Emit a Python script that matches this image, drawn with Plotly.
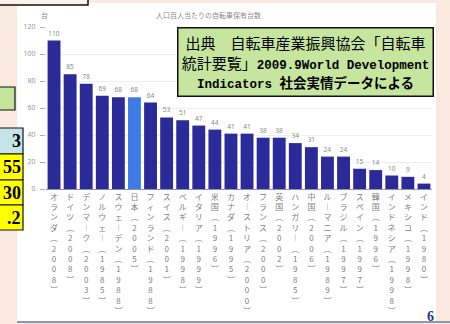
import plotly.graph_objects as go

# Bicycles owned per 100 people, by country (survey year in parentheses)
countries = [
    "オランダ(2008)", "ドイツ(2008)", "デンマーク(2003)", "ノルウェー(1985)",
    "スウェーデン(1988)", "日本(2005)", "フィンランド(1988)", "スイス(2001)",
    "ベルギー(1998)", "イタリア(1999)", "米国(1996)", "カナダ(1995)",
    "オーストリア(2000)", "フランス(2000)", "英国(2002)", "ハンガリー(1985)",
    "中国(2006)", "ルーマニア(1989)", "ブラジル(1997)", "スペイン(1997)",
    "韓国(1996)", "インドネシア(1998)", "メキシコ(1998)", "インド(1980)",
]
per_100 = [110, 85, 78, 69, 68, 68, 64, 53, 51, 47, 44, 41,
           41, 38, 38, 34, 31, 24, 24, 15, 14, 10, 9, 4]
highlight = "日本(2005)"

y_ticks = [0, 20, 40, 60, 80, 100, 120]

chart_title = "人口百人当たりの自転車保有台数"
unit_label = "台"
source_lines = [
    "出典　自転車産業振興協会「自転車",
    "統計要覧」",
    "2009.9World Development",
    "Indicators ",
    "社会実情データによる",
]
side_cells = ["3", "55", "30", ".2"]
page_no = "6"

# ---- page geometry (pixels) ----
W, H = 450, 324
PL, PR, PT, PB = 46, 432, 27, 189   # plot area edges


def px_x(p):
    return (p - PL) / (PR - PL)


def px_y(p):
    return (PB - p) / (PB - PT)


VERT = {"(": "︵", ")": "︶", "ー": "︱"}


def vertical(label):
    return "<br>".join(VERT.get(c, c) for c in label)


bar_colors = ["#3f7be6" if c == highlight else "#2a2a98" for c in countries]

fig = go.Figure(go.Bar(
    x=countries,
    y=per_100,
    marker=dict(color=bar_colors, line=dict(width=0)),
    text=per_100,
    textposition="outside",
    textfont=dict(size=6.5, color="#8a8a8a", family="Noto Sans"),
    cliponaxis=False,
    width=0.8,
))

fig.update_layout(
    width=W, height=H,
    margin=dict(l=PL, r=W - PR, t=PT, b=H - PB, pad=0),
    paper_bgcolor="#f9e9de",
    plot_bgcolor="rgba(0,0,0,0)",
    showlegend=False,
    font=dict(family="Noto Sans CJK JP, Noto Sans", color="#808080"),
)

fig.update_xaxes(
    tickmode="array",
    tickvals=countries,
    ticktext=[vertical(c) for c in countries],
    tickangle=0,
    tickfont=dict(size=8, color="#808080", family="Noto Sans CJK JP"),
    showline=True, linecolor="#8e92b0", linewidth=1,
    ticks="", showgrid=False, automargin=False,
)
fig.update_yaxes(
    range=[0, 120],
    tickvals=y_ticks,
    ticks="outside", ticklen=5, tickcolor="#b0b0b0",
    tickfont=dict(size=7, color="#9a9a9a", family="Noto Sans"),
    ticklabelstandoff=3,
    showgrid=True, gridcolor="#eeeeee", gridwidth=1,
    zeroline=False, showline=False, automargin=False,
)

shapes = []
# white chart panel
shapes.append(dict(type="rect", xref="paper", yref="paper", layer="below",
                   x0=px_x(17), x1=px_x(436), y0=px_y(321), y1=px_y(3),
                   fillcolor="#ffffff", line=dict(width=0)))
# box edge at the top left
shapes.append(dict(type="rect", xref="paper", yref="paper",
                   x0=px_x(-5), x1=px_x(88), y0=px_y(5), y1=px_y(-6),
                   fillcolor="#fdf1ea", line=dict(color="#111111", width=1.5)))
# small green box at the left
shapes.append(dict(type="rect", xref="paper", yref="paper",
                   x0=px_x(-5), x1=px_x(15), y0=px_y(110), y1=px_y(87),
                   fillcolor="#c4e49c", line=dict(color="#111111", width=1.2)))
# table cells at the left
cell_rows = [(128, 154, "#c4e4ea"), (154, 180, "#ffff00"),
             (180, 205, "#ffff00"), (205, 230, "#ffff00")]
for top, bot, col in cell_rows:
    shapes.append(dict(type="rect", xref="paper", yref="paper",
                       x0=px_x(-5), x1=px_x(23), y0=px_y(bot), y1=px_y(top),
                       fillcolor=col, line=dict(color="#111111", width=1.2)))
# footer rule
shapes.append(dict(type="line", xref="paper", yref="paper",
                   x0=px_x(17), x1=px_x(452), y0=px_y(322), y1=px_y(322),
                   line=dict(color="#8f97ad", width=2)))


def note(x, y, text, **kw):
    d = dict(xref="paper", yref="paper", x=px_x(x), y=px_y(y), text=text,
             showarrow=False, xanchor="center", yanchor="middle")
    d.update(kw)
    return d


annotations = [
    note(208, 15, chart_title,
         font=dict(size=7, color="#8a8a8a", family="Noto Sans CJK JP")),
    note(44, 15, unit_label,
         font=dict(size=7, color="#8a8a8a", family="Noto Sans CJK JP")),
]

latin = "font-size:12.5px;font-family:Liberation Mono"
source_text = (
    f"{source_lines[0]}<br>"
    f"{source_lines[1]}<span style='{latin}'><b>{source_lines[2]}</b></span><br>"
    f"<b><span style='{latin}'>{source_lines[3]}</span>"
    f"<span style='font-size:13.5px'>{source_lines[4]}</span></b>"
)
annotations.append(note(305, 62, source_text, align="center",
                        bgcolor="#c6e59e", bordercolor="#111111",
                        borderwidth=1.5, borderpad=2, width=250, height=63,
                        font=dict(size=15, color="#000000",
                                  family="Noto Sans CJK JP")))

for (top, bot, _), txt in zip(cell_rows, side_cells):
    annotations.append(note(23, (top + bot) / 2, f"<b>{txt}</b>",
                            xanchor="right",
                            font=dict(size=18, color="#000000",
                                      family="Liberation Serif")))

annotations.append(note(430, 316, f"<b>{page_no}</b>",
                        font=dict(size=14, color="#1f3a8a",
                                  family="Liberation Serif")))

fig.update_layout(shapes=shapes, annotations=annotations)

fig.write_html("out.html")
